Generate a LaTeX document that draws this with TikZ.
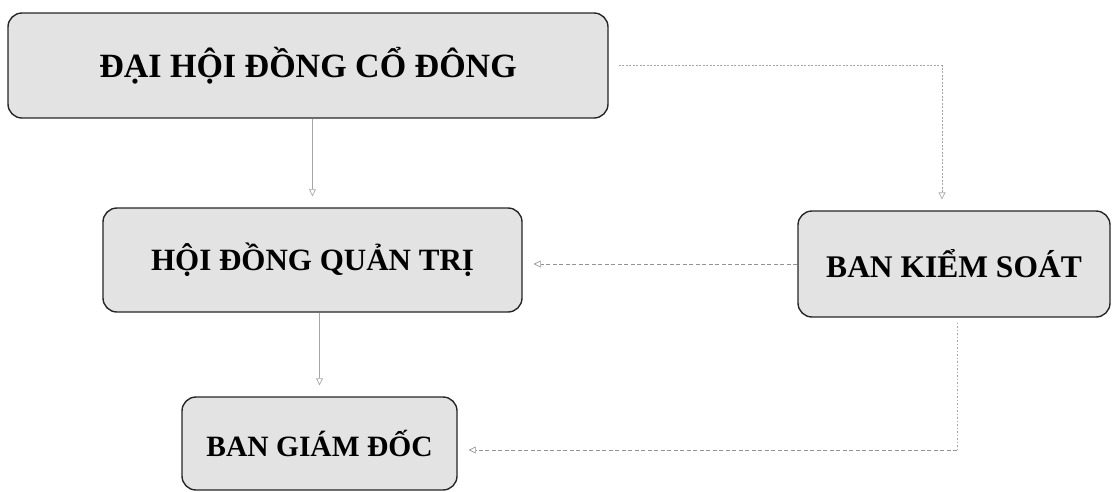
\documentclass[tikz,border=0pt]{standalone}
\usepackage{fontspec}
\setmainfont{Liberation Serif}
\usetikzlibrary{arrows.meta}
\tikzset{
  box/.style={draw=black!85, line width=1.4pt, rounded corners=14pt, fill=gray!22,
    inner sep=0pt, align=center, font=\bfseries},
  conn/.style={draw=gray!70, line width=0.7pt},
  tip/.style={-{Triangle[open,length=7pt,width=7pt]}, shorten >=11pt},
}
\begin{document}
\begin{tikzpicture}[x=1pt,y=-1pt]
\useasboundingbox (0,0) rectangle (1114,491);
\node[box, minimum width=600pt, minimum height=105pt, font=\bfseries\fontsize{34}{40}\selectfont] (A) at (308,65.5) {ĐẠI HỘI ĐỒNG CỔ ĐÔNG};
\node[box, minimum width=419pt, minimum height=104pt, font=\bfseries\fontsize{31}{37}\selectfont] (B) at (312.5,260) {HỘI ĐỒNG QUẢN TRỊ};
\node[box, minimum width=275pt, minimum height=93pt, font=\bfseries\fontsize{29.5}{35}\selectfont] (C) at (319.5,443.5) {BAN GIÁM ĐỐC};
\node[box, minimum width=312pt, minimum height=106pt, font=\bfseries\fontsize{31.5}{37}\selectfont] (D) at (954,264) {BAN KIỂM SOÁT};
\coordinate (k) at (957,450);
\draw[conn, tip] (B.north |- A.south) -- (B.north);
\draw[conn, tip] (C.north |- B.south) -- (C.north);
\draw[conn, tip, dash pattern=on 2pt off 1.5pt, shorten <=10pt] (A.east) -| ([xshift=-12pt]D.north);
\draw[conn, draw=gray!85, tip, dash pattern=on 4pt off 2.5pt] (D.west) -- (D.west -| B.east);
\draw[conn, dash pattern=on 1.5pt off 2pt, shorten <=5pt] (D.south -| k) -- (k);
\draw[conn, draw=gray!85, tip, dash pattern=on 4pt off 2.5pt] (k) -- (k -| C.east);
\end{tikzpicture}
\end{document}
